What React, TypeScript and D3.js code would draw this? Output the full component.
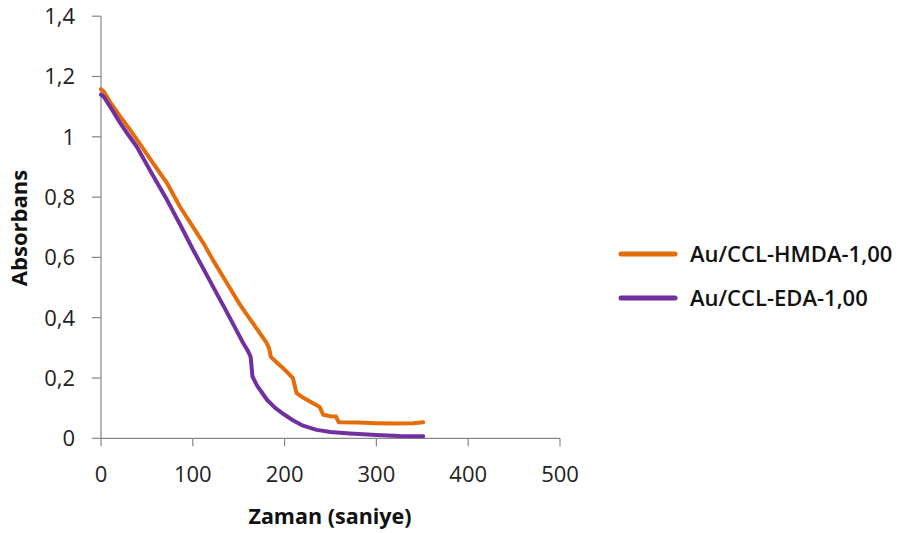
import React from "react";
import * as d3 from "d3";

const hmdaT = [0, 3, 10, 21, 30, 42, 55, 72, 86, 100, 112, 122, 133, 142, 151, 160, 170, 180, 183, 185, 192, 200, 209, 213, 220, 230, 238, 242, 250, 256, 259, 280, 300, 320, 340, 351];
const hmdaV = [1.158, 1.15, 1.115, 1.067, 1.03, 0.978, 0.92, 0.846, 0.768, 0.702, 0.645, 0.591, 0.536, 0.49, 0.445, 0.405, 0.362, 0.318, 0.3, 0.27, 0.25, 0.228, 0.2, 0.15, 0.135, 0.118, 0.105, 0.078, 0.073, 0.072, 0.053, 0.052, 0.05, 0.049, 0.05, 0.053];

const edaT = [0, 3, 12, 21, 30, 39, 55, 72, 86, 100, 115, 122, 135, 145, 155, 160, 163, 165, 170, 181, 190, 200, 209, 220, 235, 250, 271, 300, 325, 351];
const edaV = [1.14, 1.133, 1.09, 1.045, 1.005, 0.967, 0.88, 0.79, 0.71, 0.627, 0.543, 0.503, 0.43, 0.373, 0.315, 0.29, 0.27, 0.205, 0.175, 0.127, 0.1, 0.078, 0.06, 0.042, 0.028, 0.021, 0.016, 0.011, 0.008, 0.007];

const xTicks = [0, 100, 200, 300, 400, 500];
const yTicks = [0, 0.2, 0.4, 0.6, 0.8, 1, 1.2, 1.4];
const yTickLabels = ["0", "0,2", "0,4", "0,6", "0,8", "1", "1,2", "1,4"];

const seriesNames = ["Au/CCL-HMDA-1,00", "Au/CCL-EDA-1,00"];
const seriesColors = ["#E46C0A", "#7030A0"];

const FONT = "'Open Sans', 'Liberation Sans', sans-serif";

export default function App() {
  const W = 911, H = 533;
  const x = d3.scaleLinear().domain([0, 500]).range([101, 560]);
  const y = d3.scaleLinear().domain([0, 1.4]).range([438.3, 16.2]);
  const line = d3.line<[number, number]>().x(d => x(d[0])).y(d => y(d[1]));
  const series = [
    hmdaT.map((t, i) => [t, hmdaV[i]] as [number, number]),
    edaT.map((t, i) => [t, edaV[i]] as [number, number]),
  ];
  const axisColor = "#868686";
  return (
    <svg width={W} height={H} style={{ position: "absolute", left: 0, top: 0, background: "#fff" }} fontFamily={FONT}>
      <line x1={x(0)} x2={x(0)} y1={y(1.4)} y2={y(0)} stroke={axisColor} strokeWidth={1.2} />
      <line x1={x(0)} x2={x(500)} y1={y(0)} y2={y(0)} stroke={axisColor} strokeWidth={1.2} />
      {yTicks.map((v, i) => (
        <g key={"y" + i}>
          <line x1={x(0) - 9} x2={x(0)} y1={y(v)} y2={y(v)} stroke={axisColor} strokeWidth={1.2} />
          <text x={75} y={y(v)} dy="0.36em" textAnchor="end" fontSize={22} fill="#222">{yTickLabels[i]}</text>
        </g>
      ))}
      {xTicks.map((v, i) => (
        <g key={"x" + i}>
          <line x1={x(v)} x2={x(v)} y1={y(0)} y2={y(0) + 8} stroke={axisColor} strokeWidth={1.2} />
          <text x={x(v)} y={482} textAnchor="middle" fontSize={22} fill="#222">{v}</text>
        </g>
      ))}
      <text x={330} y={524} textAnchor="middle" fontSize={21.5} fontWeight="bold" fill="#111">Zaman (saniye)</text>
      <text transform={`translate(27,228) rotate(-90)`} textAnchor="middle" fontSize={22} fontWeight="bold" fill="#111">Absorbans</text>
      {series.map((s, i) => (
        <path key={"s" + i} d={line(s) || ""} fill="none" stroke={seriesColors[i]} strokeWidth={4} strokeLinejoin="round" strokeLinecap="round" />
      ))}
      {seriesNames.map((n, i) => (
        <g key={"l" + i}>
          <line x1={621} x2={675} y1={254 + i * 44} y2={254 + i * 44} stroke={seriesColors[i]} strokeWidth={5} strokeLinecap="round" />
          <text x={690} y={254 + i * 44} dy="0.36em" fontSize={22} fill="#111" fontWeight={600}>{n}</text>
        </g>
      ))}
    </svg>
  );
}
